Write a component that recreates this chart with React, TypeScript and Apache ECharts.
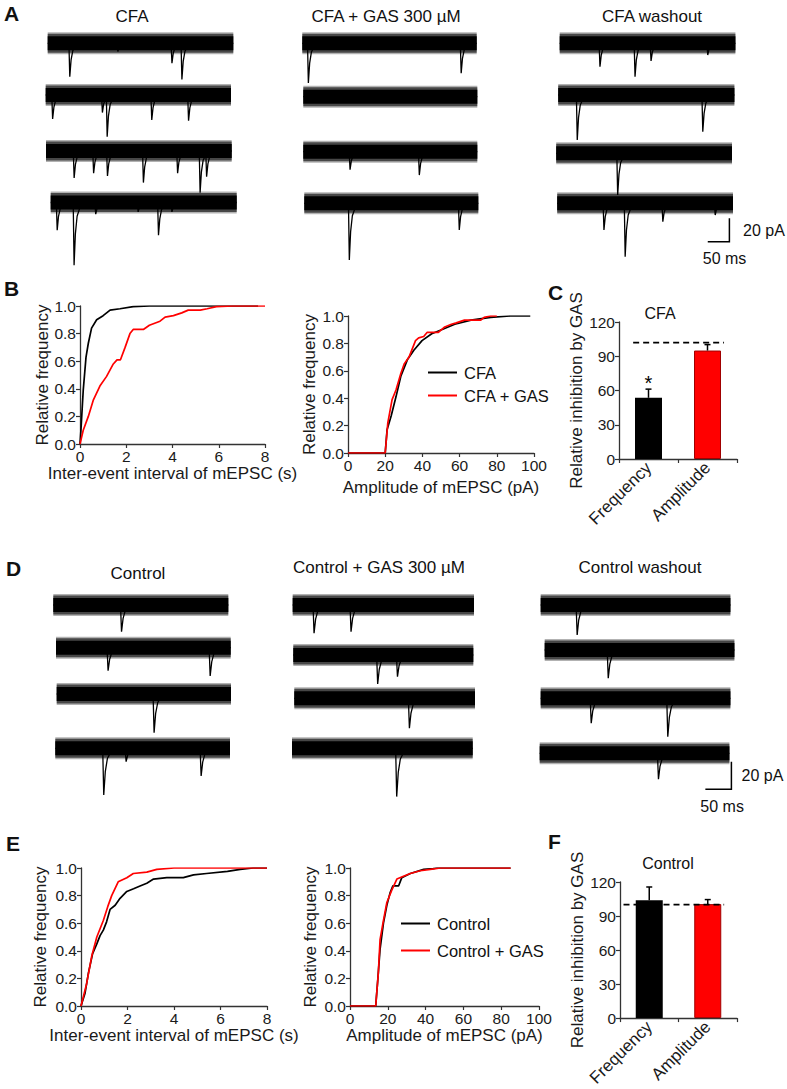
import React, { useEffect, useRef } from "react";
import * as echarts from "echarts";

const FONT = "'Liberation Sans', Arial, Helvetica, sans-serif";

// ---------- Panel A / D traces: mEPSC events [time (ms), amplitude (pA)] ----------
const aTitles = ["CFA", "CFA + GAS 300 µM", "CFA washout"];
const aCfaEvents = [
  [[51, 28.5], [162, 7], [287, 17], [310, 31]],
  [[16, 20.5], [131, 15], [142, 35.6], [245, 21.4], [330, 22]],
  [[65, 23], [110, 19], [142, 21.4], [225, 27], [304, 19], [356, 35.6], [371, 22]],
  [[15, 23.7], [54, 53.6], [104, 10], [202, 8], [249, 28], [280, 8]],
];
const aGasEvents = [
  [[14, 34], [367, 25.6]],
  [],
  [[108, 15.4], [268, 20]],
  [[104, 48.5], [358, 22.8]],
];
const aWashEvents = [
  [[93, 20], [174, 28.5], [211, 15], [342, 10]],
  [[44, 38.5], [334, 31.4]],
  [[142, 35.6]],
  [[108, 22.8], [157, 45.6], [244, 15.7], [365, 10]],
];

const dTitles = ["Control", "Control + GAS 300 µM", "Control washout"];
const dCtrlEvents = [
  [[131, 19.3]],
  [[100, 16.7], [296, 20.5]],
  [[187, 28]],
  [[93, 33.8], [136, 9.7], [280, 20]],
];
const dGasEvents = [
  [[41, 20.5], [112, 19.3]],
  [[162, 21], [200, 15.7]],
  [[221, 21.7]],
  [[201, 35]],
];
const dWashEvents = [
  [[70, 21.7]],
  [[122, 20.5]],
  [[97, 18], [244, 27.8]],
  [[228, 18.8]],
];

// ---------- Panel B / E cumulative distributions [x, relative frequency] ----------
const b1Cfa = [[0, 0], [0.04, 0.1], [0.14, 0.39], [0.26, 0.63], [0.36, 0.73], [0.5, 0.84], [0.72, 0.9], [1.0, 0.93], [1.3, 0.97], [1.73, 0.98], [2.3, 0.995], [3.0, 1.0], [7.7, 1.0]];
const b1Gas = [[0, 0], [0.14, 0.1], [0.36, 0.2], [0.58, 0.32], [0.86, 0.42], [1.15, 0.49], [1.44, 0.58], [1.6, 0.61], [1.75, 0.61], [1.95, 0.7], [2.16, 0.8], [2.3, 0.83], [2.74, 0.83], [3.0, 0.86], [3.46, 0.89], [3.68, 0.92], [4.04, 0.93], [4.4, 0.95], [4.68, 0.97], [5.2, 0.97], [5.5, 0.98], [5.9, 0.995], [6.6, 1.0], [8, 1.0]];
const b2Cfa = [[0, 0], [20, 0], [21, 0.17], [23.2, 0.27], [25.8, 0.41], [28.4, 0.56], [31.9, 0.68], [35.4, 0.75], [39.8, 0.82], [45, 0.87], [50.3, 0.9], [57.4, 0.94], [66.1, 0.97], [76.7, 0.99], [87.2, 1.0], [98, 1.0]];
const b2Gas = [[0, 0], [20, 0], [21.4, 0.22], [23.7, 0.39], [25.8, 0.46], [28.4, 0.58], [30.2, 0.65], [32.8, 0.7], [36.3, 0.82], [38, 0.84], [40.7, 0.85], [42.5, 0.88], [48.6, 0.88], [52, 0.92], [55.6, 0.94], [58.2, 0.95], [62.6, 0.97], [71.4, 0.97], [73.2, 0.99], [76.7, 1.0], [80, 1.0]];
const e1Ctrl = [[0, 0], [0.17, 0.09], [0.32, 0.24], [0.5, 0.38], [0.68, 0.45], [0.82, 0.51], [0.96, 0.55], [1.1, 0.61], [1.25, 0.7], [1.47, 0.73], [1.68, 0.78], [1.97, 0.83], [2.26, 0.85], [2.54, 0.87], [2.83, 0.89], [3.12, 0.92], [3.69, 0.93], [4.4, 0.93], [4.84, 0.95], [5.4, 0.96], [6.3, 0.975], [6.85, 0.99], [7.4, 1.0], [8, 1.0]];
const e1Gas = [[0, 0], [0.24, 0.16], [0.46, 0.36], [0.68, 0.5], [0.96, 0.62], [1.15, 0.72], [1.32, 0.8], [1.6, 0.9], [1.97, 0.93], [2.25, 0.96], [2.83, 0.97], [3.26, 0.99], [4, 1.0], [8, 1.0]];
const e2Ctrl = [[0, 0], [13.6, 0], [14.7, 0.19], [15.9, 0.41], [17.7, 0.6], [19.5, 0.73], [21.2, 0.82], [22.7, 0.87], [25.7, 0.87], [27.4, 0.93], [31.9, 0.96], [39, 0.99], [44, 0.995], [46, 1.0], [85, 1.0]];
const e2Gas = [[0, 0], [13.6, 0], [15, 0.24], [15.9, 0.48], [17.7, 0.62], [19.5, 0.75], [22.1, 0.84], [24.8, 0.92], [28.3, 0.94], [31.9, 0.96], [37.2, 0.98], [42.5, 0.99], [47.8, 1.0], [85, 1.0]];

// ---------- Panel C / F bars ----------
const barCats = ["Frequency", "Amplitude"];
const cMean = [53.6, 95];
const cErr = [7.6, 5.2];
const cMarks = ["*", ""];
const cRef = 102;
const fMean = [104, 100.5];
const fErr = [11.6, 4];
const fMarks = ["", ""];
const fRef = 100;

// ---------- layout (pixels) ----------
const A_SCALE = { msPerPx: 2.31, pxPerPA: 1.17 };
const D_SCALE = { msPerPx: 1.92, pxPerPA: 1.38 };
const aLayout = [
  [[47.7, 185.6, 43.3], [45.7, 185.3, 95], [46, 185.7, 151], [50.7, 186, 202.5]],
  [[302.3, 174.4, 43.3], [303.3, 174, 96.7], [303.3, 174, 151.7], [304.3, 174, 203.3]],
  [[559.7, 175.7, 43.3], [558.2, 176.2, 95], [556.2, 175.8, 153.3], [557.2, 175.8, 203.3]],
];
const dLayout = [
  [[53.3, 175, 605], [56, 174.7, 647.7], [56.7, 174.3, 694], [55.3, 174.7, 748.3]],
  [[292.7, 181.3, 605], [293.3, 180, 655], [294.3, 180.7, 698.3], [292, 180.7, 748.3]],
  [[540.7, 189.7, 605], [544.7, 189.7, 650], [540.7, 189.7, 698.3], [539.7, 189.7, 753.3]],
];

function buildOption() {
  const grid: any[] = [];
  const xAxis: any[] = [];
  const yAxis: any[] = [];
  const series: any[] = [];
  const graphic: any[] = [];

  const axisColor = "#333";
  const labelColor = "#1a1a1a";

  function addTrace(events: number[][], lay: number[], scale: any) {
    const [left, width, cy] = lay;
    const dur = width * scale.msPerPx;
    const yMax = 16;
    const yMin = -62;
    const gi = grid.length;
    grid.push({ left, top: cy - yMax * scale.pxPerPA, width, height: (yMax - yMin) * scale.pxPerPA });
    const xi = xAxis.length;
    xAxis.push({ gridIndex: gi, type: "value", min: 0, max: dur, show: false });
    const yi = yAxis.length;
    yAxis.push({ gridIndex: gi, type: "value", min: yMin, max: yMax, show: false });
    const base = [[0, 0], [dur, 0]];
    series.push({ type: "line", xAxisIndex: xi, yAxisIndex: yi, data: base, symbol: "none", silent: true, lineStyle: { width: 22, color: "rgba(0,0,0,0.3)", cap: "butt" } });
    series.push({ type: "line", xAxisIndex: xi, yAxisIndex: yi, data: base, symbol: "none", silent: true, lineStyle: { width: 19, color: "rgba(0,0,0,0.6)", cap: "butt" } });
    series.push({ type: "line", xAxisIndex: xi, yAxisIndex: yi, data: base, symbol: "none", silent: true, lineStyle: { width: 14, color: "#000", cap: "butt" } });
    const pts: number[][] = [[0, 0]];
    for (const [t, a] of events) {
      pts.push([t - 2, 0], [t, -a], [t + 3, -a * 0.5], [t + 7, -a * 0.22], [t + 14, -a * 0.07], [t + 24, 0]);
    }
    pts.push([dur, 0]);
    series.push({ type: "line", xAxisIndex: xi, yAxisIndex: yi, data: pts, symbol: "none", silent: true, lineStyle: { width: 1.3, color: "#000" } });
  }

  [aCfaEvents, aGasEvents, aWashEvents].forEach((col, c) => col.forEach((ev, r) => addTrace(ev, aLayout[c][r], A_SCALE)));
  [dCtrlEvents, dGasEvents, dWashEvents].forEach((col, c) => col.forEach((ev, r) => addTrace(ev, dLayout[c][r], D_SCALE)));

  const axisCommon = {
    axisLine: { show: true, lineStyle: { color: axisColor, width: 1.3 } },
    axisTick: { show: true, length: 4, lineStyle: { color: axisColor, width: 1.2 } },
    splitLine: { show: false },
    nameLocation: "middle",
    nameTextStyle: { fontSize: 17, color: labelColor, fontFamily: FONT },
  };

  function addCdf(rect: number[], xMax: number, xInt: number, xName: string, xGap: number, yGap: number, lines: any[]) {
    const gi = grid.length;
    grid.push({ left: rect[0], top: rect[1], width: rect[2], height: rect[3] });
    const xi = xAxis.length;
    xAxis.push({
      ...axisCommon, gridIndex: gi, type: "value", min: 0, max: xMax, interval: xInt,
      name: xName, nameGap: xGap,
      axisLabel: { fontSize: 15.5, color: labelColor, fontFamily: FONT, margin: 4 },
    });
    const yi = yAxis.length;
    yAxis.push({
      ...axisCommon, gridIndex: gi, type: "value", min: 0, max: 1, interval: 0.2,
      name: "Relative frequency", nameGap: yGap,
      axisLabel: { fontSize: 15.5, color: labelColor, fontFamily: FONT, margin: 4, formatter: (v: number) => v.toFixed(1) },
    });
    lines.forEach((l) => {
      series.push({ type: "line", name: l.name, xAxisIndex: xi, yAxisIndex: yi, data: l.data, symbol: "none", color: l.color, lineStyle: { width: 1.7, color: l.color } });
    });
  }

  addCdf([80, 306, 185, 138], 8, 2, "Inter-event interval of mEPSC (s)", 20, 26, [
    { name: "CFA ", data: b1Cfa, color: "#000" },
    { name: "CFA + GAS ", data: b1Gas, color: "#ff0000" },
  ]);
  addCdf([348, 316, 186, 137], 100, 20, "Amplitude of mEPSC (pA)", 26, 30, [
    { name: "CFA", data: b2Cfa, color: "#000" },
    { name: "CFA + GAS", data: b2Gas, color: "#ff0000" },
  ]);
  addCdf([81, 868, 186, 138], 8, 2, "Inter-event interval of mEPSC (s)", 20, 32, [
    { name: "Control ", data: e1Ctrl, color: "#000" },
    { name: "Control + GAS ", data: e1Gas, color: "#ff0000" },
  ]);
  addCdf([350, 868, 189, 138], 100, 20, "Amplitude of mEPSC (pA)", 20, 31, [
    { name: "Control", data: e2Ctrl, color: "#000" },
    { name: "Control + GAS", data: e2Gas, color: "#ff0000" },
  ]);

  function addBars(rect: number[], means: number[], errs: number[], marks: string[], ref: number, refSpan: number[]) {
    const gi = grid.length;
    grid.push({ left: rect[0], top: rect[1], width: rect[2], height: rect[3] });
    const xi = xAxis.length;
    xAxis.push({
      ...axisCommon, gridIndex: gi, type: "category", data: barCats,
      axisTick: { show: true, length: 4, alignWithLabel: false, lineStyle: { color: axisColor, width: 1.2 } },
      axisLabel: { fontSize: 17, color: labelColor, fontFamily: FONT, rotate: 45, margin: 6, interval: 0 },
    });
    const xi2 = xAxis.length;
    xAxis.push({ gridIndex: gi, type: "value", min: 0, max: 1, show: false });
    const yi = yAxis.length;
    yAxis.push({
      ...axisCommon, gridIndex: gi, type: "value", min: 0, max: 120, interval: 30,
      name: "Relative inhibition by GAS", nameGap: 28,
      nameTextStyle: { fontSize: 17, color: labelColor, fontFamily: FONT },
      axisLabel: { fontSize: 15.5, color: labelColor, fontFamily: FONT, margin: 4 },
    });
    series.push({
      type: "bar", xAxisIndex: xi, yAxisIndex: yi, barWidth: 27,
      data: means.map((m, i) => ({
        value: m,
        itemStyle: i === 0 ? { color: "#000" } : { color: "#ff0000", borderColor: "#a00000", borderWidth: 1 },
      })),
    });
    series.push({
      type: "custom", xAxisIndex: xi, yAxisIndex: yi, z: 5,
      data: means.map((m, i) => [i, m, errs[i]]),
      renderItem: (params: any, api: any) => {
        const i = api.value(0);
        const m = api.value(1);
        const e = api.value(2);
        const p0 = api.coord([i, m]);
        const p1 = api.coord([i, m + e]);
        const children: any[] = [
          { type: "line", shape: { x1: p0[0], y1: p0[1], x2: p1[0], y2: p1[1] }, style: { stroke: "#000", lineWidth: 1.5 } },
          { type: "line", shape: { x1: p1[0] - 3, y1: p1[1], x2: p1[0] + 3, y2: p1[1] }, style: { stroke: "#000", lineWidth: 1.5 } },
        ];
        const mk = marks[params.dataIndex];
        if (mk) {
          children.push({ type: "text", style: { text: mk, x: p1[0], y: p1[1] - 6, align: "center", verticalAlign: "middle", fontSize: 20, fontFamily: FONT, fill: "#000" } });
        }
        return { type: "group", children };
      },
    });
    series.push({
      type: "line", xAxisIndex: xi2, yAxisIndex: yi, z: 6, symbol: "none", silent: true,
      data: [[refSpan[0], ref], [refSpan[1], ref]],
      lineStyle: { color: "#000", width: 1.8, type: [6, 4] },
    });
  }

  addBars([619, 322, 118, 137], cMean, cErr, cMarks, cRef, [0.12, 0.89]);
  addBars([620, 882, 117, 137], fMean, fErr, fMarks, fRef, [0.03, 0.89]);

  // texts
  const txt = (text: string, x: number, y: number, size: number, align = "center", weight = "normal") => ({
    type: "text", x, y, silent: true,
    style: { text, align, verticalAlign: "middle", fontSize: size, fontWeight: weight, fontFamily: FONT, fill: "#111" },
  });
  graphic.push(txt("A", 4, 13, 21, "left", "bold"));
  graphic.push(txt("B", 4, 288, 21, "left", "bold"));
  graphic.push(txt("C", 548, 292, 21, "left", "bold"));
  graphic.push(txt("D", 6, 568, 21, "left", "bold"));
  graphic.push(txt("E", 6, 843, 21, "left", "bold"));
  graphic.push(txt("F", 548, 841, 21, "left", "bold"));
  const aTitleX = [132, 386, 652];
  const aTitleY = [16, 16, 16];
  aTitles.forEach((t, i) => graphic.push(txt(t, aTitleX[i], aTitleY[i], 17)));
  const dTitleX = [138, 379, 640];
  const dTitleY = [573, 567, 567];
  dTitles.forEach((t, i) => graphic.push(txt(t, dTitleX[i], dTitleY[i], 17)));
  graphic.push(txt("CFA", 660, 313, 16));
  graphic.push(txt("Control", 668, 863, 16));

  // scale bars (20 pA, 50 ms)
  function scaleBar(x: number, yBottom: number, scale: any, textX: number, msY: number) {
    const h = 20 * scale.pxPerPA;
    const w = 50 / scale.msPerPx;
    graphic.push({
      type: "polyline", silent: true,
      shape: { points: [[x, yBottom - h], [x, yBottom], [x - w, yBottom]] },
      style: { stroke: "#000", lineWidth: 1.5, fill: null },
    });
    graphic.push(txt("20 pA", textX, yBottom - h / 2, 16, "left"));
    graphic.push(txt("50 ms", x - w - 5, msY, 16, "left"));
  }
  scaleBar(729.4, 241.7, A_SCALE, 743, 258);
  scaleBar(731.4, 789.3, D_SCALE, 741.5, 806);

  const legendCommon = {
    orient: "vertical", icon: "rect", itemWidth: 29, itemHeight: 2, selectedMode: false,
    textStyle: { fontSize: 16.5, fontFamily: FONT, color: "#111", padding: [0, 0, 0, 2] },
  };
  const legend = [
    { ...legendCommon, data: ["CFA", "CFA + GAS"], left: 423, top: 359, itemGap: 6 },
    { ...legendCommon, data: ["Control", "Control + GAS"], left: 396, top: 910, itemGap: 10 },
  ];

  return { animation: false, backgroundColor: "#fff", grid, xAxis, yAxis, series, graphic, legend };
}

export default function App() {
  const ref = useRef<HTMLDivElement>(null);
  useEffect(() => {
    document.body.style.margin = "0";
    const chart = echarts.init(ref.current!, null, { renderer: "svg" });
    chart.setOption(buildOption() as any);
    return () => chart.dispose();
  }, []);
  return <div ref={ref} style={{ width: 787, height: 1089 }} />;
}
